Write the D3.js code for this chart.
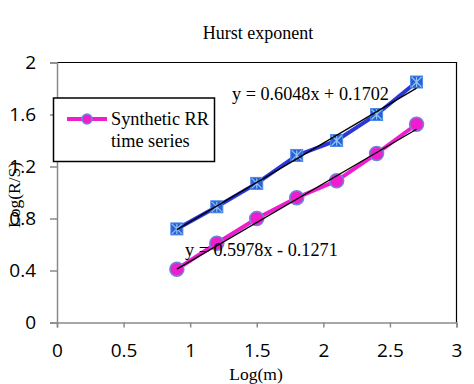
<!DOCTYPE html>
<html>
<head>
<meta charset="utf-8">
<script src="https://cdn.jsdelivr.net/npm/d3@7"></script>
<style>
  body { margin: 0; background: #fff; }
  .tick text { font-family: "Open Sans", sans-serif; font-size: 19px; fill: #000; }
  .serif { font-family: "Liberation Serif", "DejaVu Serif", serif; }
</style>
</head>
<body>
<div id="chart"></div>
<script>
// data
const logM = [0.9, 1.2, 1.5, 1.8, 2.1, 2.4, 2.7]
const realRS = [0.72, 0.89, 1.07, 1.285, 1.40, 1.60, 1.85]
const syntheticRS = [0.41, 0.61, 0.80, 0.96, 1.09, 1.30, 1.525]
const realFit = [0.6048, 0.1702]
const syntheticFit = [0.5978, -0.1271]
const xTicks = [0, 0.5, 1, 1.5, 2, 2.5, 3]
const yTicks = [0, 0.4, 0.8, 1.2, 1.6, 2]

const width = 474, height = 384
const svg = d3.select("#chart").append("svg")
  .attr("width", width)
  .attr("height", height)

let x = d3.scaleLinear().domain([0, 3]).range([57, 456.5])
let y = d3.scaleLinear().domain([0, 2]).range([322.5, 62.5])

// khung vùng vẽ (trên và phải màu đen)
svg.append("path")
  .attr("d", `M${x(0)},${y(2)}H${x(3)}V${y(0)}`)
  .attr("fill", "none").attr("stroke", "#000").attr("stroke-width", 1.2)

// trục
let axisX = d3.axisBottom(x).tickValues(xTicks).tickSize(5).tickPadding(16)
  .tickFormat(d3.format("~g"))
let gx = svg.append("g").attr("transform", `translate(0,${y(0)})`).call(axisX)
let axisY = d3.axisLeft(y).tickValues(yTicks).tickSize(7).tickPadding(14)
  .tickFormat(d3.format("~g"))
let gy = svg.append("g").attr("transform", `translate(${x(0)},0)`).call(axisY)
gy.selectAll(".tick line").attr("x2", 0).attr("x1", -7)
for (let g of [gx, gy]) {
  g.select(".domain").attr("stroke", "#8a8a8a").attr("stroke-width", 1.5)
  g.selectAll(".tick line").attr("stroke", "#8a8a8a").attr("stroke-width", 1.5)
}

// tiêu đề, nhãn trục
svg.append("text").attr("class", "serif")
  .attr("x", 258).attr("y", 39).attr("text-anchor", "middle")
  .attr("font-size", 18).text("Hurst exponent")
svg.append("text").attr("class", "serif")
  .attr("x", 256).attr("y", 380).attr("text-anchor", "middle")
  .attr("font-size", 17.5).text("Log(m)")
svg.append("text").attr("class", "serif")
  .attr("transform", "translate(20,195) rotate(-90)")
  .attr("text-anchor", "middle")
  .attr("font-size", 17.5).text("Log(R/S)")

let line = d3.line().x(d => x(d[0])).y(d => y(d[1]))

// chuỗi thực (xanh)
let realPts = logM.map((m, i) => [m, realRS[i]])
svg.append("path").attr("d", line(realPts))
  .attr("fill", "none").attr("stroke", "#2b36d8").attr("stroke-width", 4)
let marks = svg.selectAll(".real").data(realPts).enter().append("g")
  .attr("class", "real")
  .attr("transform", d => `translate(${x(d[0])},${y(d[1])})`)
marks.append("rect").attr("x", -6).attr("y", -6).attr("width", 12).attr("height", 12)
  .attr("fill", "#2f5ed6").attr("stroke", "#4a8be8").attr("stroke-width", 1)
marks.append("path").attr("d", "M-5,-5L5,5M5,-5L-5,5M0,-5V5")
  .attr("stroke", "#8fc4f5").attr("stroke-width", 1.2)

// chuỗi tổng hợp (hồng)
let synPts = logM.map((m, i) => [m, syntheticRS[i]])
svg.append("path").attr("d", line(synPts))
  .attr("fill", "none").attr("stroke", "#ee1ecf").attr("stroke-width", 4)
svg.selectAll(".syn").data(synPts).enter().append("circle")
  .attr("class", "syn")
  .attr("cx", d => x(d[0])).attr("cy", d => y(d[1])).attr("r", 7)
  .attr("fill", "#ee1ecf").attr("stroke", "#6f86d6").attr("stroke-width", 1.5)

// đường xu hướng
for (let f of [realFit, syntheticFit]) {
  let ends = [logM[0], logM[logM.length - 1]].map(m => [m, f[0] * m + f[1]])
  svg.append("path").attr("d", line(ends))
    .attr("fill", "none").attr("stroke", "#000").attr("stroke-width", 1.3)
}

// phương trình
const fmt = f => `y = ${f[0].toFixed(4)}x ${f[1] < 0 ? "-" : "+"} ${Math.abs(f[1]).toFixed(4)}`
svg.append("text").attr("class", "serif")
  .attr("x", 232).attr("y", 100).attr("font-size", 18.2).text(fmt(realFit))
svg.append("text").attr("class", "serif")
  .attr("x", 185).attr("y", 256).attr("font-size", 18.2).text(fmt(syntheticFit))

// chú thích
let legend = svg.append("g")
legend.append("rect").attr("x", 53.5).attr("y", 98).attr("width", 161).attr("height", 63.5)
  .attr("fill", "#fff").attr("stroke", "#000").attr("stroke-width", 1.5)
legend.append("line").attr("x1", 67).attr("x2", 107).attr("y1", 119).attr("y2", 119)
  .attr("stroke", "#ee1ecf").attr("stroke-width", 4)
legend.append("circle").attr("cx", 87).attr("cy", 119).attr("r", 5)
  .attr("fill", "#ee1ecf").attr("stroke", "#6f86d6").attr("stroke-width", 1.5)
legend.append("text").attr("class", "serif")
  .attr("x", 111).attr("y", 125).attr("font-size", 18.3).text("Synthetic RR")
legend.append("text").attr("class", "serif")
  .attr("x", 111).attr("y", 147).attr("font-size", 18.3).text("time series")
</script>
</body>
</html>
